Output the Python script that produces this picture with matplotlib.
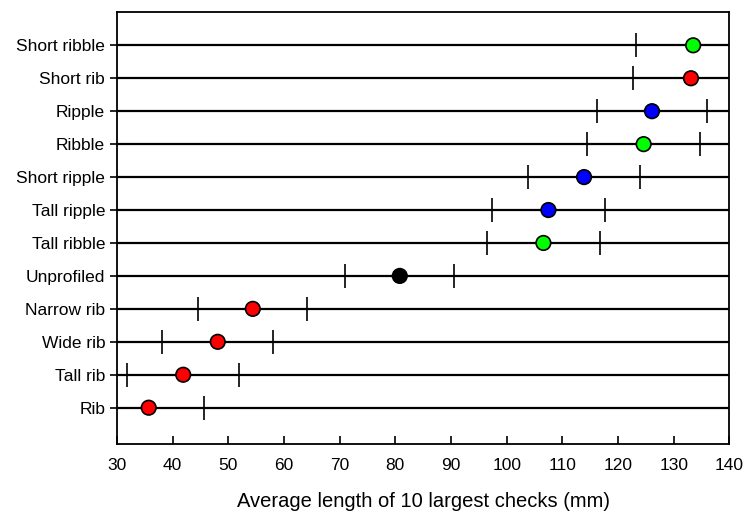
import numpy as np
import matplotlib
matplotlib.use('Agg')
import matplotlib.pyplot as plt

plt.rcParams['font.family'] = ['Liberation Sans', 'DejaVu Sans']

# bottom to top
labels = ['Rib', 'Tall rib', 'Wide rib', 'Narrow rib', 'Unprofiled', 'Tall ribble',
          'Tall ripple', 'Short ripple', 'Ribble', 'Ripple', 'Short rib', 'Short ribble']
means = [35.7, 41.9, 48.1, 54.4, 80.8, 106.6, 107.5, 113.9, 124.6, 126.1, 133.1, 133.5]
errs = [10.0, 10.1, 10.0, 9.8, 9.8, 10.2, 10.2, 10.1, 10.2, 9.9, 10.4, 10.2]
colors = ['red', 'red', 'red', 'red', 'black', '#00ff00',
          'blue', 'blue', '#00ff00', 'blue', 'red', '#00ff00']

fig = plt.figure(figsize=(7.45, 5.15), dpi=100)
ax = fig.add_axes([0.157, 0.138, 0.822, 0.838])

y = np.arange(len(labels))
for yi in y:
    ax.axhline(yi, color='black', lw=1.6, zorder=1)

lo = np.array(means) - np.array(errs)
hi = np.array(means) + np.array(errs)
ax.plot(lo, y, linestyle='none', marker='|', ms=17, mew=1.2, color='black', zorder=2)
ax.plot(hi, y, linestyle='none', marker='|', ms=17, mew=1.2, color='black', zorder=2)
ax.scatter(means, y, s=110, c=colors, edgecolors='black', linewidths=1.2, zorder=3)

ax.set_xlim(30, 140)
ax.set_ylim(-1.1, 12.0)
ax.set_xticks(np.arange(30, 141, 10))
ax.set_yticks(y)
ax.set_yticklabels(labels)
ax.tick_params(axis='x', direction='in', length=6, width=1.2, labelsize=12.5, pad=10)
ax.tick_params(axis='y', direction='out', length=5, width=1.2, labelsize=12.5)
for s in ax.spines.values():
    s.set_linewidth(1.3)
ax.set_xlabel('Average length of 10 largest checks (mm)', fontsize=14.5, labelpad=14)

fig.savefig('out.png', dpi=100)
